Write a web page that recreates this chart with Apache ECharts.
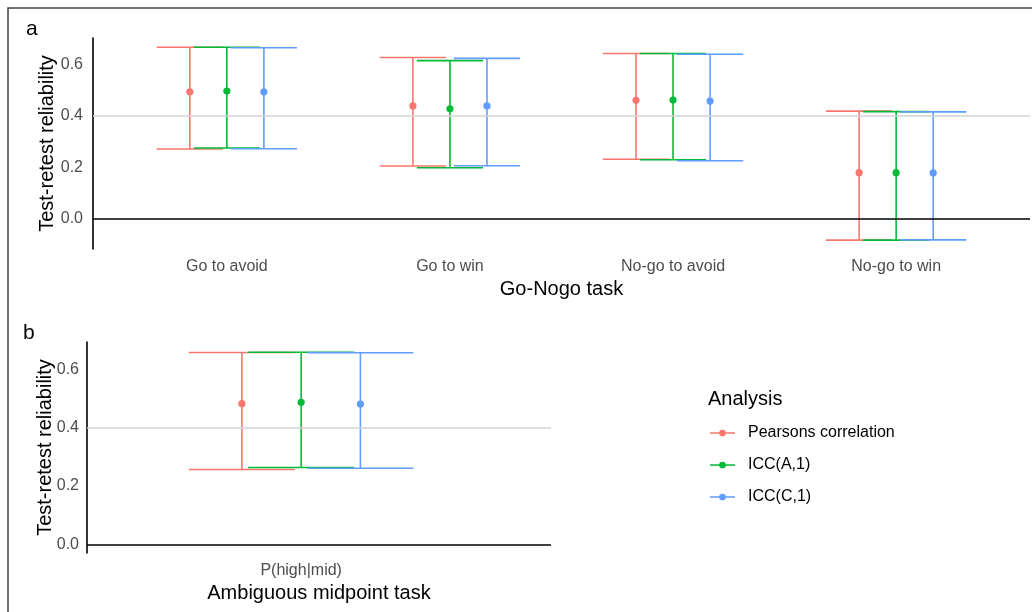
<!DOCTYPE html>
<html>
<head>
<meta charset="utf-8">
<script src="https://cdn.jsdelivr.net/npm/echarts@6/dist/echarts.min.js"></script>
<style>html,body{margin:0;padding:0;background:#fff}#c{width:1032px;height:612px}</style>
</head>
<body>
<div id="c"></div>
<script>
// ---- data ----
var categoriesA = ['Go to avoid', 'Go to win', 'No-go to avoid', 'No-go to win'];
var categoriesB = ['P(high|mid)'];
var analyses = ['Pearsons correlation', 'ICC(A,1)', 'ICC(C,1)'];
var yTicks = [0, 0.2, 0.4, 0.6];

// panel a (Go-Nogo task)
var pearsonA_est = [0.494, 0.439, 0.461, 0.180];
var pearsonA_lo  = [0.272, 0.206, 0.232, -0.082];
var pearsonA_hi  = [0.667, 0.627, 0.643, 0.419];
var iccA1A_est = [0.497, 0.428, 0.462, 0.180];
var iccA1A_lo  = [0.276, 0.199, 0.230, -0.082];
var iccA1A_hi  = [0.667, 0.615, 0.643, 0.417];
var iccC1A_est = [0.494, 0.439, 0.458, 0.179];
var iccC1A_lo  = [0.273, 0.207, 0.226, -0.081];
var iccC1A_hi  = [0.665, 0.624, 0.640, 0.416];

// panel b (Ambiguous midpoint task)
var pearsonB_est = [0.483];
var pearsonB_lo  = [0.257];
var pearsonB_hi  = [0.659];
var iccA1B_est = [0.488];
var iccA1B_lo  = [0.264];
var iccA1B_hi  = [0.660];
var iccC1B_est = [0.482];
var iccC1B_lo  = [0.261];
var iccC1B_hi  = [0.658];

var colors = ['#F8766D', '#00BA38', '#619CFF'];
var FONT = "'Liberation Sans', Arial, sans-serif";

function rows(est, lo, hi) {
  return est.map(function (v, i) { return [i + 1, v, lo[i], hi[i]]; });
}

var dodge = [-0.166, 0, 0.166];
var capHalf = 0.1486;

function makeRender(k, color) {
  return function (params, api) {
    var x = api.value(0) + dodge[k];
    var p = api.coord([x, api.value(1)]);
    var lo = api.coord([x, api.value(2)]);
    var hi = api.coord([x, api.value(3)]);
    var loL = api.coord([x - capHalf, api.value(2)]);
    var loR = api.coord([x + capHalf, api.value(2)]);
    var hiL = api.coord([x - capHalf, api.value(3)]);
    var hiR = api.coord([x + capHalf, api.value(3)]);
    var st = { stroke: color, lineWidth: 1.6 };
    return {
      type: 'group',
      children: [
        { type: 'line', shape: { x1: lo[0], y1: lo[1], x2: hi[0], y2: hi[1] }, style: st },
        { type: 'line', shape: { x1: loL[0], y1: loL[1], x2: loR[0], y2: loR[1] }, style: st },
        { type: 'line', shape: { x1: hiL[0], y1: hiL[1], x2: hiR[0], y2: hiR[1] }, style: st },
        { type: 'circle', shape: { cx: p[0], cy: p[1], r: 3.6 }, style: { fill: color } }
      ]
    };
  };
}

var panelData = [
  [rows(pearsonA_est, pearsonA_lo, pearsonA_hi), rows(iccA1A_est, iccA1A_lo, iccA1A_hi), rows(iccC1A_est, iccC1A_lo, iccC1A_hi)],
  [rows(pearsonB_est, pearsonB_lo, pearsonB_hi), rows(iccA1B_est, iccA1B_lo, iccA1B_hi), rows(iccC1B_est, iccC1B_lo, iccC1B_hi)]
];

var series = [];
[0, 1].forEach(function (g) {
  series.push({
    type: 'line', xAxisIndex: g, yAxisIndex: g, data: [], silent: true,
    markLine: {
      silent: true, symbol: 'none', label: { show: false }, animation: false,
      data: [
        { yAxis: 0.4, lineStyle: { color: '#D3D3D3', width: 1.5, type: 'solid' } },
        { yAxis: 0, lineStyle: { color: '#000', width: 1.6, type: 'solid' } }
      ]
    }
  });
  analyses.forEach(function (name, k) {
    series.push({
      type: 'custom', name: name, xAxisIndex: g, yAxisIndex: g,
      color: colors[k],
      encode: { x: 0, y: [1, 2, 3] },
      data: panelData[g][k],
      renderItem: makeRender(k, colors[k]),
      animation: false
    });
  });
});

function xAxisCfg(g, cats, max, title) {
  return {
    type: 'value', gridIndex: g, min: 0.4, max: max,
    axisLine: { show: false }, axisTick: { show: false }, splitLine: { show: false },
    axisLabel: {
      customValues: cats.map(function (c, i) { return i + 1; }),
      formatter: function (v) { return cats[Math.round(v) - 1] || ''; },
      color: '#4D4D4D', fontSize: 16, fontFamily: FONT, margin: 10
    },
    name: title, nameLocation: 'middle', nameGap: 30,
    nameTextStyle: { color: '#000', fontSize: 20, fontFamily: FONT }
  };
}
function yAxisCfg(g, min, max, gap, margin) {
  return {
    type: 'value', gridIndex: g, min: min, max: max,
    axisLine: { show: true, lineStyle: { color: '#000', width: 1.6 } },
    axisTick: { show: false }, splitLine: { show: false },
    axisLabel: {
      customValues: yTicks,
      formatter: function (v) { return v.toFixed(1); },
      color: '#4D4D4D', fontSize: 16, fontFamily: FONT, margin: margin
    },
    name: 'Test-retest reliability', nameLocation: 'middle', nameGap: gap,
    nameMoveOverlap: false,
    nameTextStyle: { color: '#000', fontSize: 20, fontFamily: FONT }
  };
}

var legendIcon = 'path://M0,3.3 L26,3.3 L26,4.7 L0,4.7 Z M13,0.5 A3.5,3.5 0 1 1 13,7.5 A3.5,3.5 0 1 1 13,0.5 Z';

var chart = echarts.init(document.getElementById('c'), null, { renderer: 'canvas' });
chart.setOption({
  animation: false,
  backgroundColor: '#fff',
  textStyle: { fontFamily: FONT },
  title: [
    { text: 'a', left: 21, top: 14, textStyle: { fontSize: 21, fontWeight: 'normal', color: '#000', fontFamily: FONT } },
    { text: 'b', left: 18, top: 318, textStyle: { fontSize: 21, fontWeight: 'normal', color: '#000', fontFamily: FONT } },
    { text: 'Analysis', left: 703, top: 384, textStyle: { fontSize: 20, fontWeight: 'normal', color: '#000', fontFamily: FONT } }
  ],
  legend: {
    orient: 'vertical', left: 705, top: 420,
    itemWidth: 25, itemHeight: 7, itemGap: 16,
    data: analyses.map(function (n, k) { return { name: n, icon: legendIcon, itemStyle: { color: colors[k] } }; }),
    textStyle: { fontSize: 16, color: '#000', fontFamily: FONT, padding: [0, 0, 0, 8] },
    selectedMode: false
  },
  grid: [
    { left: 93, top: 38, width: 937, height: 211 },
    { left: 87, top: 342, width: 464, height: 211 }
  ],
  xAxis: [
    xAxisCfg(0, categoriesA, 4.6, 'Go-Nogo task'),
    xAxisCfg(1, categoriesB, 1.7, 'Ambiguous midpoint task')
  ],
  yAxis: [
    yAxisCfg(0, -0.1165, 0.703, 36, 10),
    yAxisCfg(1, -0.030, 0.695, 32, 8)
  ],
  series: series,
  graphic: [
    { type: 'rect', shape: { x: 8, y: 8, width: 1100, height: 700 }, style: { fill: null, stroke: '#444', lineWidth: 1.5 }, silent: true, z: 100 }
  ]
});
</script>
</body>
</html>
